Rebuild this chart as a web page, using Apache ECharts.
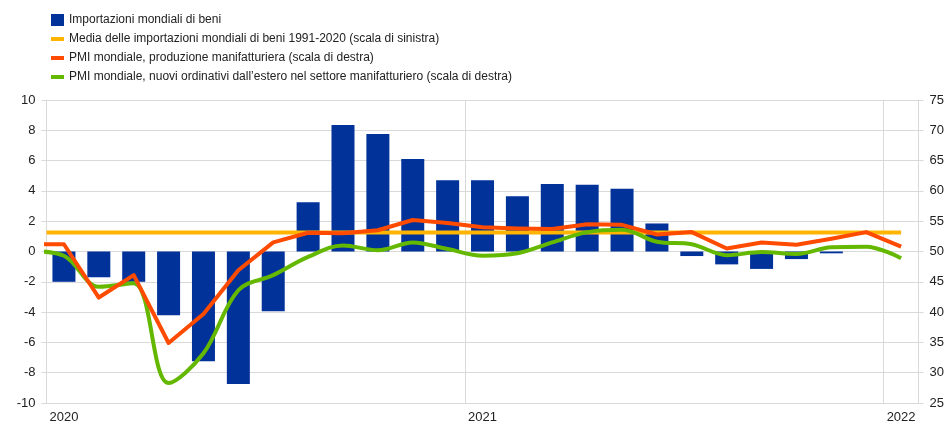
<!DOCTYPE html>
<html>
<head>
    <meta charset="utf-8"/>
    <title>Importazioni mondiali e PMI</title>
    <script src="https://cdn.jsdelivr.net/npm/echarts@6/dist/echarts.min.js"></script>
    <style>
        html, body { margin: 0; padding: 0; background: #fff; }
        #chart { width: 947px; height: 424px; }
    </style>
</head>
<body>
<div id="chart"></div>
<script>
    // mesi (categorie dell'asse x), gen 2020 - gen 2022
    var months = ['2020-01', '2020-02', '2020-03', '2020-04', '2020-05', '2020-06', '2020-07', '2020-08', '2020-09', '2020-10', '2020-11', '2020-12',
        '2021-01', '2021-02', '2021-03', '2021-04', '2021-05', '2021-06', '2021-07', '2021-08', '2021-09', '2021-10', '2021-11', '2021-12',
        '2022-01'];

    // importazioni mondiali di beni (scala di sinistra)
    var imports = [-2.0, -1.7, -2.0, -4.2, -7.25, -8.75, -3.95, 3.25, 8.35, 7.75, 6.1, 4.7,
        4.7, 3.65, 4.45, 4.4, 4.15, 1.85, -0.3, -0.85, -1.15, -0.5, -0.12, null, null];

    // media 1991-2020 (scala di sinistra)
    var importsMean = 1.25;

    // PMI, da dic 2019 a gen 2022 (scala di destra)
    var pmiOutput = [51.2, 51.2, 42.4, 46.1, 34.9, 39.7, 46.9, 51.5, 53.1, 53.0, 53.5, 55.2, 54.7,
        54.0, 53.8, 53.7, 54.5, 54.4, 52.8, 53.2, 50.5, 51.5, 51.1, 52.1, 53.2, 50.8];
    var pmiExport = [50.1, 49.3, 44.2, 44.75, 28.3, 33.2, 43.6, 46.1, 49.1, 51.0, 50.2, 51.5, 50.4,
        49.3, 49.7, 51.5, 53.2, 53.6, 51.6, 51.2, 49.4, 49.9, 49.6, 50.7, 50.8, 48.9];

    var names = ['Importazioni mondiali di beni',
        'Media delle importazioni mondiali di beni 1991-2020 (scala di sinistra)',
        'PMI mondiale, produzione manifatturiera (scala di destra)',
        'PMI mondiale, nuovi ordinativi dall\u2019estero nel settore manifatturiero (scala di destra)'];

    // posizione al centro del mese (il primo valore e' dic 2019)
    function toPoints(arr) {
        return arr.map(function (v, i) { return [i - 0.5, v]; });
    }

    var lineIcon = 'path://M0,0H13V4H0Z';
    var txt = '#222';

    var myChart = echarts.init(document.getElementById('chart'));
    var option = {
        animation: false,
        textStyle: { fontFamily: 'Liberation Sans, Arial, sans-serif' },
        legend: {
            orient: 'vertical',
            left: 46,
            top: 9,
            itemWidth: 13,
            itemHeight: 12,
            itemGap: 7,
            textStyle: { fontSize: 12, color: txt, padding: [0, 0, 0, 0] },
            data: [
                { name: names[0], icon: 'rect' },
                { name: names[1], icon: lineIcon },
                { name: names[2], icon: lineIcon },
                { name: names[3], icon: lineIcon }
            ]
        },
        grid: { left: 46.5, right: 25.5, top: 100, bottom: 21 },
        xAxis: [{
            type: 'category',
            data: months,
            boundaryGap: true,
            axisLine: { show: true, lineStyle: { color: '#d9d9d9' } },
            axisTick: { show: false },
            axisLabel: {
                interval: function (i, v) { return v.slice(5) === '01'; },
                formatter: function (v) { return v.slice(0, 4); },
                color: txt, fontSize: 13, margin: 8
            },
            splitLine: {
                show: true,
                interval: function (i, v) { return v === '2021-01' || v === '2022-01'; },
                lineStyle: { color: '#d9d9d9' }
            }
        }, {
            type: 'value',
            min: 0,
            max: 25,
            show: false
        }],
        yAxis: [{
            type: 'value',
            min: -10,
            max: 10,
            interval: 2,
            axisLine: { show: true, lineStyle: { color: '#d9d9d9' } },
            axisLabel: { color: txt, fontSize: 13, margin: 11 },
            splitLine: { lineStyle: { color: '#d9d9d9' } }
        }, {
            type: 'value',
            min: 25,
            max: 75,
            interval: 5,
            axisLine: { show: true, lineStyle: { color: '#d9d9d9' } },
            axisLabel: { color: txt, fontSize: 13, margin: 11 },
            splitLine: { show: false }
        }],
        series: [{
            name: names[0],
            type: 'bar',
            barWidth: 23,
            itemStyle: { color: '#003299' },
            data: imports
        }, {
            name: names[1],
            type: 'line',
            xAxisIndex: 1,
            yAxisIndex: 0,
            symbol: 'none',
            lineStyle: { color: '#ffb400', width: 4 },
            itemStyle: { color: '#ffb400' },
            data: [[0, importsMean], [months.length - 0.5, importsMean]]
        }, {
            name: names[3],
            type: 'line',
            xAxisIndex: 1,
            yAxisIndex: 1,
            symbol: 'none',
            smooth: 0.35,
            lineStyle: { color: '#65b800', width: 4 },
            itemStyle: { color: '#65b800' },
            data: toPoints(pmiExport)
        }, {
            name: names[2],
            type: 'line',
            xAxisIndex: 1,
            yAxisIndex: 1,
            symbol: 'none',
            lineStyle: { color: '#ff4b00', width: 4, join: 'round' },
            itemStyle: { color: '#ff4b00' },
            data: toPoints(pmiOutput)
        }]
    };
    myChart.setOption(option);
</script>
</body>
</html>
